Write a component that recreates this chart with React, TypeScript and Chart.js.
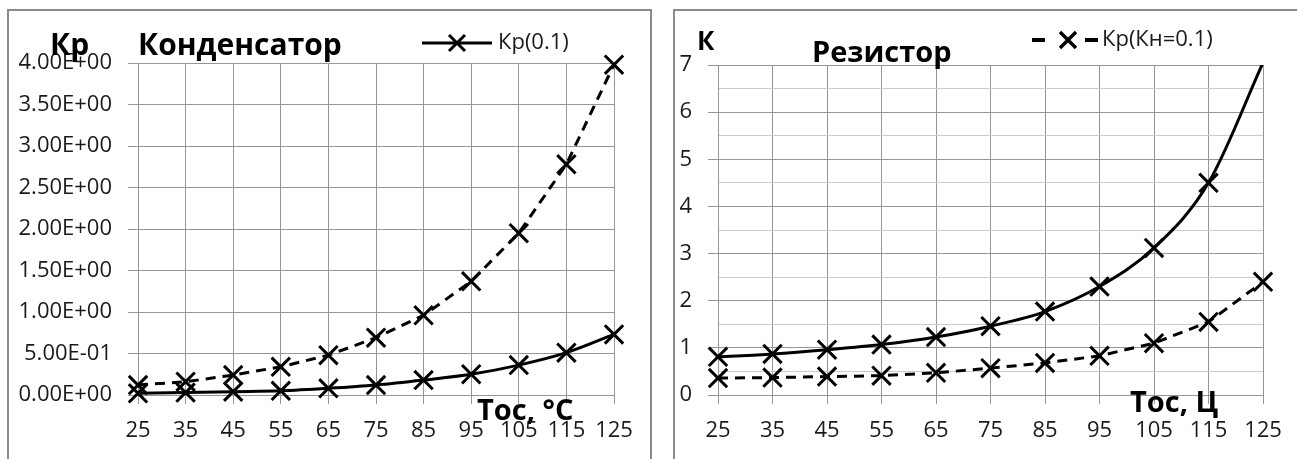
import React, { useEffect, useRef } from 'react';
import { Chart, registerables } from 'chart.js';

Chart.register(...registerables);

// ---------- data ----------
const temperatures = ['25', '35', '45', '55', '65', '75', '85', '95', '105', '115', '125'];

// Конденсатор
const capacitorKp01 = [0.02, 0.03, 0.04, 0.05, 0.08, 0.12, 0.18, 0.25, 0.36, 0.51, 0.73];
const capacitorKpUpper = [0.12, 0.16, 0.24, 0.34, 0.48, 0.69, 0.96, 1.37, 1.95, 2.78, 3.98];
const capacitorYMin = 0;
const capacitorYMax = 4;
const capacitorYStep = 0.5;

// Резистор
const resistorKp = [0.81, 0.87, 0.96, 1.07, 1.23, 1.46, 1.77, 2.3, 3.12, 4.5, 7.05];
const resistorKpKn01 = [0.36, 0.37, 0.39, 0.41, 0.47, 0.57, 0.68, 0.83, 1.1, 1.55, 2.4];
const resistorYMin = 0;
const resistorYMax = 7;
const resistorYStep = 0.5;

// texts
const capacitorTitle = 'Конденсатор';
const capacitorYTitle = 'Кр';
const capacitorXTitle = 'Тос, °С';
const capacitorLegend = 'Кр(0.1)';
const resistorTitle = 'Резистор';
const resistorYTitle = 'К';
const resistorXTitle = 'Тос, Ц';
const resistorLegend = 'Кр(Кн=0.1)';

// ---------- styles ----------
const FONT = "'Open Sans', 'Noto Sans', sans-serif";
const GRID = '#969696';
const GRID_MINOR = '#cbcbcb';
const TEXT = '#1a1a1a';

function fmtExp(v: number): string {
  const [m, e] = Number(v).toExponential(2).split('e');
  const sign = e.startsWith('-') ? '-' : '+';
  const digits = e.replace('+', '').replace('-', '').padStart(2, '0');
  return `${m}E${sign}${digits}`;
}

const decorPlugin = {
  id: 'decor',
  afterDraw(chart: any, _args: any, opts: any) {
    const ctx: CanvasRenderingContext2D = chart.ctx;
    ctx.save();
    for (const t of opts.texts || []) {
      ctx.font = t.font;
      ctx.fillStyle = t.color || '#000';
      ctx.textAlign = t.align || 'left';
      ctx.textBaseline = t.baseline || 'alphabetic';
      ctx.fillText(t.text, t.x, t.y);
    }
    const lg = opts.legend;
    if (lg) {
      ctx.strokeStyle = '#000';
      ctx.lineWidth = lg.lineWidth;
      ctx.lineCap = 'butt';
      ctx.beginPath();
      for (const [a, b] of lg.segments) {
        ctx.moveTo(a, lg.y);
        ctx.lineTo(b, lg.y);
      }
      ctx.stroke();
      const r = lg.markerHalf;
      ctx.lineWidth = lg.markerWidth;
      ctx.beginPath();
      ctx.moveTo(lg.markerX - r, lg.y - r);
      ctx.lineTo(lg.markerX + r, lg.y + r);
      ctx.moveTo(lg.markerX + r, lg.y - r);
      ctx.lineTo(lg.markerX - r, lg.y + r);
      ctx.stroke();
      ctx.font = lg.font;
      ctx.fillStyle = TEXT;
      ctx.textAlign = 'left';
      ctx.textBaseline = 'middle';
      ctx.fillText(lg.text, lg.textX, lg.y);
    }
    ctx.restore();
  },
};

function seriesStyle(dashed: boolean) {
  return {
    borderColor: '#000',
    backgroundColor: '#000',
    borderWidth: 3,
    borderDash: dashed ? [10, 7] : [],
    pointStyle: 'crossRot',
    pointRadius: 13,
    pointBorderWidth: 3,
    pointBorderColor: '#000',
    pointBackgroundColor: '#000',
    fill: false,
  };
}

function makeCapacitorConfig(): any {
  return {
    type: 'line',
    data: {
      labels: temperatures,
      datasets: [
        {
          label: capacitorLegend,
          data: capacitorKp01,
          ...seriesStyle(false),
          cubicInterpolationMode: 'monotone',
          clip: false,
        },
        {
          label: 'Кр',
          data: capacitorKpUpper,
          ...seriesStyle(true),
          tension: 0,
          clip: false,
        },
      ],
    },
    options: {
      responsive: false,
      animation: false,
      events: [],
      layout: { padding: { top: 53, right: 37, left: 0, bottom: 0 } },
      plugins: {
        legend: { display: false },
        tooltip: { enabled: false },
        decor: {
          texts: [
            { text: capacitorYTitle, x: 42, y: 45, font: `bold 30px ${FONT}` },
            { text: capacitorTitle, x: 130, y: 45, font: `bold 30px ${FONT}` },
            { text: capacitorXTitle, x: 469, y: 410, font: `bold 29px ${FONT}` },
          ],
          legend: {
            segments: [[414, 484]],
            y: 33,
            lineWidth: 3,
            markerX: 449,
            markerHalf: 8,
            markerWidth: 3,
            textX: 490,
            text: capacitorLegend,
            font: `22px ${FONT}`,
          },
        },
      },
      scales: {
        x: {
          type: 'category',
          offset: false,
          grid: { color: GRID, lineWidth: 1, tickLength: 9, drawTicks: true },
          border: { color: GRID },
          ticks: { font: { family: FONT, size: 22 }, color: TEXT, padding: 14, maxRotation: 0, autoSkip: false },
          afterFit: (s: any) => { s.height = 64; },
        },
        y: {
          min: capacitorYMin,
          max: capacitorYMax,
          grid: { color: GRID, lineWidth: 1, tickLength: 10 },
          border: { color: GRID },
          ticks: {
            stepSize: capacitorYStep,
            autoSkip: false,
            callback: (v: any) => fmtExp(Number(v)),
            font: { family: FONT, size: 22 },
            color: TEXT,
            padding: 16,
          },
          afterFit: (s: any) => { s.width = 130; },
        },
      },
    },
    plugins: [decorPlugin],
  };
}

function makeResistorConfig(): any {
  const isMajor = (v: number) => Math.abs(v - Math.round(v)) < 1e-6;
  return {
    type: 'line',
    data: {
      labels: temperatures,
      datasets: [
        {
          label: 'К',
          data: resistorKp,
          ...seriesStyle(false),
          cubicInterpolationMode: 'monotone',
          pointRadius: (c: any) => (c.raw > resistorYMax ? 0 : 13),
          clip: { left: 30, right: 30, bottom: 30, top: 0 },
        },
        {
          label: resistorLegend,
          data: resistorKpKn01,
          ...seriesStyle(true),
          tension: 0,
          clip: false,
        },
      ],
    },
    options: {
      responsive: false,
      animation: false,
      events: [],
      layout: { padding: { top: 55, right: 34, left: 0, bottom: 0 } },
      plugins: {
        legend: { display: false },
        tooltip: { enabled: false },
        decor: {
          texts: [
            { text: resistorYTitle, x: 23, y: 40, font: `bold 26px ${FONT}` },
            { text: resistorTitle, x: 138, y: 52, font: `bold 29px ${FONT}` },
            { text: resistorXTitle, x: 456, y: 402, font: `bold 29px ${FONT}` },
          ],
          legend: {
            segments: [[358, 371], [411, 424]],
            y: 30,
            lineWidth: 4,
            markerX: 394,
            markerHalf: 8,
            markerWidth: 3.5,
            textX: 428,
            text: resistorLegend,
            font: `22px ${FONT}`,
          },
        },
      },
      scales: {
        x: {
          type: 'category',
          offset: false,
          grid: { color: GRID, lineWidth: 1, tickLength: 9, drawTicks: true },
          border: { color: GRID },
          ticks: { font: { family: FONT, size: 22 }, color: TEXT, padding: 14, maxRotation: 0, autoSkip: false },
          afterFit: (s: any) => { s.height = 64; },
        },
        y: {
          min: resistorYMin,
          max: resistorYMax,
          grid: {
            color: (c: any) => (isMajor(c.tick.value) ? GRID : GRID_MINOR),
            tickColor: (c: any) => (isMajor(c.tick.value) ? GRID : 'rgba(0,0,0,0)'),
            lineWidth: 1,
            tickLength: 10,
          },
          border: { color: GRID },
          ticks: {
            stepSize: resistorYStep,
            autoSkip: false,
            callback: (v: any) => (isMajor(Number(v)) ? String(Math.round(Number(v))) : ''),
            font: { family: FONT, size: 22 },
            color: TEXT,
            padding: 16,
          },
          afterFit: (s: any) => { s.width = 44; },
        },
      },
    },
    plugins: [decorPlugin],
  };
}

function ChartCanvas({ config, left, top, width, height }: any) {
  const ref = useRef<HTMLCanvasElement | null>(null);
  useEffect(() => {
    if (!ref.current) return;
    const chart = new Chart(ref.current, config());
    return () => chart.destroy();
  }, []);
  return (
    <canvas
      ref={ref}
      width={width}
      height={height}
      style={{ position: 'absolute', left, top, width, height, display: 'block' }}
    />
  );
}

export default function App() {
  return (
    <div
      style={{
        position: 'fixed',
        left: 0,
        top: 0,
        width: 1297,
        height: 459,
        overflow: 'hidden',
        background: '#fff',
      }}
    >
      <div
        style={{
          position: 'absolute', left: 7, top: 9, width: 645, height: 480,
          border: '2px solid #8a8a8a', boxSizing: 'border-box',
        }}
      />
      <div
        style={{
          position: 'absolute', left: 673, top: 9, width: 700, height: 480,
          border: '2px solid #8a8a8a', boxSizing: 'border-box',
        }}
      />
      <ChartCanvas config={makeCapacitorConfig} left={8} top={10} width={643} height={449} />
      <ChartCanvas config={makeResistorConfig} left={674} top={10} width={623} height={449} />
    </div>
  );
}
